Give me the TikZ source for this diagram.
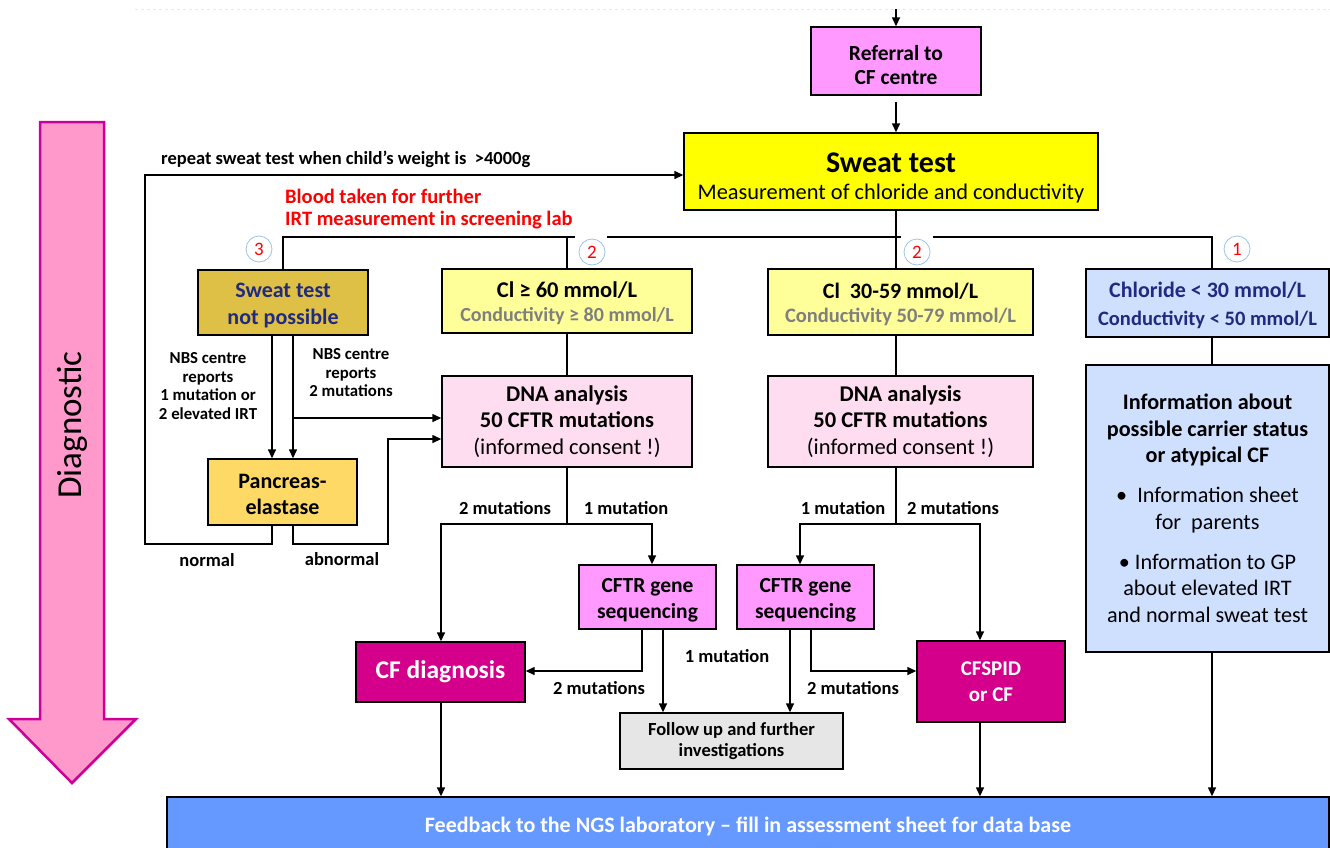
\documentclass[tikz,border=0pt]{standalone}
\usepackage{fontspec}
\setmainfont{Carlito}
\usetikzlibrary{arrows.meta}
\definecolor{refpink}{HTML}{FF99FF}
\definecolor{sweaty}{HTML}{FFFF00}
\definecolor{goldbox}{HTML}{DFC046}
\definecolor{panc}{HTML}{FFD966}
\definecolor{lighty}{HTML}{FFFF99}
\definecolor{dnapink}{HTML}{FFDDF0}
\definecolor{lightblue}{HTML}{CFE0FF}
\definecolor{navy}{HTML}{1F2A80}
\definecolor{magbox}{HTML}{D4008C}
\definecolor{greybox}{HTML}{E6E6E6}
\definecolor{feedblue}{HTML}{6699FF}
\definecolor{diagfill}{HTML}{FF99CC}
\definecolor{diagline}{HTML}{CC0099}
\definecolor{ringblue}{HTML}{9DC3E6}
\definecolor{condgrey}{HTML}{7F7F7F}
\definecolor{faint}{HTML}{F3E4EA}
\begin{document}
\begin{tikzpicture}[x=1pt,y=-1pt,
  box/.style={draw=black,line width=1.4pt,inner sep=0pt,align=center},
  conn/.style={line width=1.4pt},
  arr/.style={conn,-{Triangle[length=9pt,width=8pt]}},
  lbl/.style={inner sep=0pt,align=center,font=\fontsize{18.5}{20}\selectfont\bfseries},
  nbs/.style={inner sep=0pt,align=center,font=\fontsize{16.8}{18.5}\selectfont\bfseries},
  ring/.style={circle,draw=ringblue,line width=0.8pt,fill=white,minimum size=26pt,inner sep=0pt,text=red,font=\fontsize{19}{19}\selectfont}
]
\useasboundingbox (0,0) rectangle (1330,847);

% faint dashed rule along the top
\draw[faint,dashed,line width=0.6pt] (135,9) -- (1330,9);

% big "Diagnostic" arrow on the left
\draw[fill=diagfill,draw=diagline,line width=2.5pt,line join=miter]
  (40,122) -- (104,122) -- (104,719) -- (136,719) -- (72,783) -- (9,719) -- (40,719) -- cycle;
\node[rotate=90,font=\fontsize{35}{35}\selectfont] (diag) at (72,425) {Diagnostic};

% boxes
\node[box,fill=refpink,minimum width=170pt,minimum height=68pt,font=\fontsize{21.5}{24}\selectfont\bfseries] (referral) at (896,61)
  {\rule{0pt}{24pt}Referral to\\CF centre};
\node[box,fill=sweaty,minimum width=414pt,minimum height=77pt,font=\fontsize{22.4}{27.5}\selectfont] (sweat) at (891,171.5)
  {{\fontsize{30}{27.5}\selectfont\bfseries\rule{0pt}{33pt}Sweat test}\\Measurement of chloride and conductivity};
\node[box,fill=goldbox,text=navy,minimum width=170pt,minimum height=65pt,font=\fontsize{22}{26.5}\selectfont\bfseries] (notposs) at (283,302.5)
  {\rule{0pt}{20pt}Sweat test\\not possible};
\node[box,fill=lighty,minimum width=250pt,minimum height=64pt,font=\fontsize{20}{24.5}\selectfont\bfseries] (clhigh) at (567,301)
  {{\fontsize{22.5}{24.5}\selectfont\rule{0pt}{20pt}Cl ≥ 60 mmol/L}\\{\color{condgrey}Conductivity ≥ 80 mmol/L}};
\node[box,fill=lighty,minimum width=265pt,minimum height=66pt,font=\fontsize{20.5}{24.5}\selectfont\bfseries] (clmid) at (900.5,302)
  {{\fontsize{22}{24.5}\selectfont\rule{0pt}{20pt}Cl\ \ 30-59 mmol/L}\\{\color{condgrey}Conductivity 50-79 mmol/L}};
\node[box,fill=lightblue,text=navy,minimum width=243pt,minimum height=68pt,font=\fontsize{20.5}{28.5}\selectfont\bfseries] (chlor) at (1207.5,303)
  {{\fontsize{22}{28.5}\selectfont\rule{0pt}{20pt}Chloride < 30 mmol/L}\\Conductivity < 50 mmol/L};
\node[box,fill=dnapink,minimum width=250pt,minimum height=91pt,font=\fontsize{22.5}{26.5}\selectfont] (dna1) at (567,421.5)
  {\bfseries DNA analysis\\\bfseries 50 CFTR mutations\\(informed consent !)};
\node[box,fill=dnapink,minimum width=265pt,minimum height=91pt,font=\fontsize{22.5}{26.5}\selectfont] (dna2) at (900.5,421.5)
  {\bfseries DNA analysis\\\bfseries 50 CFTR mutations\\(informed consent !)};
\node[box,fill=lightblue,minimum width=243pt,minimum height=287pt,font=\fontsize{22.2}{26.5}\selectfont] (info) at (1207.5,508.5)
  {\bfseries Information about\\\bfseries possible carrier status\\\bfseries or atypical CF\\[13.5pt]
   •\ \ Information sheet\\for\ \ parents\\[13.5pt]
   • Information to GP\\about elevated IRT\\and normal sweat test};
\node[box,fill=panc,minimum width=149pt,minimum height=66pt,font=\fontsize{22}{26}\selectfont\bfseries] (pancreas) at (282.5,492)
  {\rule{0pt}{20pt}Pancreas-\\elastase};
\node[box,fill=magbox,text=white,minimum width=169pt,minimum height=60pt,font=\fontsize{25.5}{28}\selectfont\bfseries] (cfdiag) at (440.5,672) {CF diagnosis};
\node[box,fill=refpink,minimum width=137pt,minimum height=64pt,font=\fontsize{21.5}{26}\selectfont\bfseries] (seq1) at (647.5,597)
  {\rule{0pt}{21pt}CFTR gene\\sequencing};
\node[box,fill=refpink,minimum width=137pt,minimum height=64pt,font=\fontsize{21.5}{26}\selectfont\bfseries] (seq2) at (805.5,597)
  {\rule{0pt}{21pt}CFTR gene\\sequencing};
\node[box,fill=greybox,minimum width=223pt,minimum height=56pt,font=\fontsize{18.5}{21}\selectfont\bfseries] (follow) at (731.5,741) {Follow up and further\\investigations};
\node[box,fill=magbox,text=white,minimum width=148pt,minimum height=81pt,font=\fontsize{21}{26}\selectfont\bfseries] (cfspid) at (991,681.5) {CFSPID\\or CF};
\node[box,fill=feedblue,minimum width=1162pt,minimum height=63pt] (feedback) at (748,828.5) {};
\node[text=white,inner sep=0pt,font=\fontsize{22}{24}\selectfont\bfseries] (feedtext) at (748,826) {Feedback to the NGS laboratory – fill in assessment sheet for data base};

% numbered branch markers
\node[ring] (r3) at (259,249) {3};
\node[ring] (r2a) at (592,252) {2};
\node[ring] (r2b) at (917,252) {2};
\node[ring] (r1) at (1237,249) {1};

% junction points
\coordinate (top) at (896,9);
\coordinate (spine) at (896,237);
\coordinate (loopL) at (145,544);
\coordinate (loopR) at (388,544);
\coordinate (splitA) at (567,524);
\coordinate (splitB) at (896,524);

% main spine
\draw[arr] (top) -- (referral.north);
\draw[arr,shorten <=6pt] (referral.south) -- (referral.south |- sweat.north);

% branch bar under the sweat test
\draw[conn] (notposs.north) -- (notposs.north |- spine) -- (575,237);
\draw[conn] (567,237) -- (567,269.7);
\draw[conn] (607,237) -- (901,237);
\draw[conn] (sweat.south -| spine) -- (clmid.north -| spine);
\draw[conn] (933,237) -- (1212,237) -- (1212,269);

% sweat test not possible
\draw[arr] (notposs.south -| 272,0) -- (pancreas.north -| 272,0);
\draw[arr] (notposs.south -| 293,0) -- (pancreas.north -| 293,0);
\draw[arr] (293,418) -- (dna1.west |- 0,418);
\draw[arr] (pancreas.south -| 272,0) -- (272,544) -- (loopL) -- (145,175) -- (sweat.west |- 0,175);
\draw[arr] (pancreas.south -| 293,0) -- (293,544) -- (loopR) -- (388,439) -- (dna1.west |- 0,439);

% first DNA analysis
\draw[conn] (clhigh.south -| splitA) -- (dna1.north -| splitA);
\draw[conn] (dna1.south -| splitA) -- (splitA);
\draw[arr] (splitA) -- (441,524) -- (cfdiag.north -| 441,0);
\draw[arr] (splitA) -- (652,524) -- (seq1.north -| 652,0);
\draw[arr] (seq1.south -| 642,0) -- (642,671) -- (cfdiag.east |- 0,671);
\draw[arr] (seq1.south -| 663,0) -- (follow.north -| 663,0);

% second DNA analysis
\draw[conn] (clmid.south -| splitB) -- (dna2.north -| splitB);
\draw[conn] (dna2.south -| splitB) -- (splitB);
\draw[arr] (splitB) -- (800,524) -- (seq2.north -| 800,0);
\draw[arr] (splitB) -- (980,524) -- (cfspid.north -| 980,0);
\draw[arr] (seq2.south -| 790,0) -- (follow.north -| 790,0);
\draw[arr] (seq2.south -| 811,0) -- (811,671) -- (cfspid.west |- 0,671);

% low chloride
\draw[conn] (chlor.south -| 1212,0) -- (info.north -| 1212,0);

% into the feedback bar
\draw[arr] (cfdiag.south -| 441,0) -- (feedback.north -| 441,0);
\draw[arr] (cfspid.south -| 980,0) -- (feedback.north -| 980,0);
\draw[arr] (info.south -| 1212,0) -- (feedback.north -| 1212,0);

% labels
\node[anchor=west,inner sep=0pt,font=\fontsize{18.5}{20}\selectfont\bfseries] (repeatlbl) at (161,159) {repeat sweat test when child’s weight is\ \ >4000g};
\node[anchor=west,inner sep=0pt,align=left,text=red,font=\fontsize{20.5}{22}\selectfont\bfseries] (bloodlbl) at (285,209) {Blood taken for further\\IRT measurement in screening lab};
\node[nbs] (nbs1) at (208,386) {NBS centre\\reports\\1 mutation or\\2 elevated IRT};
\node[nbs] (nbs2) at (351,373) {NBS centre\\reports\\2 mutations};
\node[lbl] (normallbl) at (207,560) {normal};
\node[lbl] (abnormallbl) at (342,559) {abnormal};
\node[lbl] (m2a) at (505,508) {2 mutations};
\node[lbl] (m1a) at (626,508) {1 mutation};
\node[lbl] (m1b) at (843,508) {1 mutation};
\node[lbl] (m2b) at (953,508) {2 mutations};
\node[lbl] (m2c) at (599,688) {2 mutations};
\node[lbl] (m1c) at (727,656) {1 mutation};
\node[lbl] (m2d) at (853,688) {2 mutations};
\end{tikzpicture}
\end{document}
